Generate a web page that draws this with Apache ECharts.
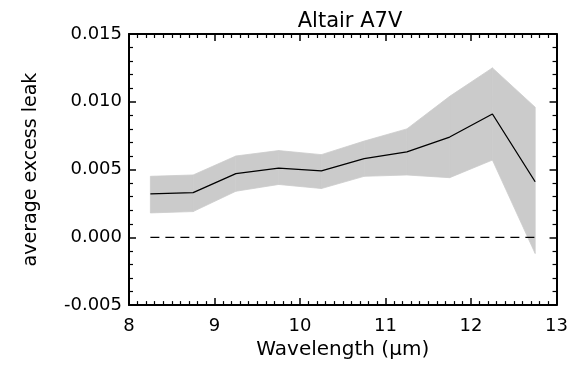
<!DOCTYPE html>
<html>
<head>
<meta charset="utf-8">
<script src="https://cdn.jsdelivr.net/npm/echarts@6/dist/echarts.min.js"></script>
<style>
  html, body { margin: 0; padding: 0; background: #fff; }
</style>
</head>
<body>
<div id="main" style="width: 571px; height: 365px"></div>
<script>
// wavelength bins (micron)
var wavelengths = [8.25, 8.75, 9.25, 9.75, 10.25, 10.75, 11.25, 11.75, 12.25, 12.75];
// mean leak
var meanLeak = [0.0032, 0.0033, 0.0047, 0.0051, 0.0049, 0.0058, 0.0063, 0.0074, 0.0091, 0.0041];
// band lower / upper edges
var lowerLeak = [0.0018, 0.0019, 0.0034, 0.0039, 0.0036, 0.0045, 0.0046, 0.0044, 0.0057, -0.0012];
var upperLeak = [0.0045, 0.0046, 0.0060, 0.0064, 0.0061, 0.0071, 0.0080, 0.0104, 0.0125, 0.0096];

var xTicks = [8, 9, 10, 11, 12, 13];
var yTicks = [-0.005, 0.000, 0.005, 0.010, 0.015];

var font = 'DejaVu Sans';
var bandColor = '#cbcbcb';

function pairs(ys) {
    return wavelengths.map(function (x, i) { return [x, ys[i]]; });
}

var chartDom = document.getElementById('main');
var myChart = echarts.init(chartDom, null, { renderer: 'canvas' });

var axisCommon = {
    type: 'value',
    axisLine: { show: true, onZero: false, lineStyle: { color: '#000', width: 2 } },
    axisTick: { show: true, inside: true, length: 7, lineStyle: { color: '#000', width: 1.5 } },
    minorTick: { show: true, length: 4, lineStyle: { color: '#000', width: 1.2 } },
    splitLine: { show: false }
};

// band: one quad per pair of neighbouring bins, positioned with api.coord
function renderBand(params, api) {
    var i = params.dataIndex;
    if (i >= wavelengths.length - 1) return null;
    var pts = [
        api.coord([wavelengths[i], lowerLeak[i]]),
        api.coord([wavelengths[i + 1], lowerLeak[i + 1]]),
        api.coord([wavelengths[i + 1], upperLeak[i + 1]]),
        api.coord([wavelengths[i], upperLeak[i]])
    ];
    return {
        type: 'polygon',
        shape: { points: pts },
        style: { fill: bandColor, stroke: bandColor, lineWidth: 0.8 },
        silent: true
    };
}

var option = {
    animation: false,
    title: {
        text: 'Altair A7V',
        left: 345,
        textAlign: 'center',
        top: 6,
        textStyle: { fontFamily: font, fontSize: 21, fontWeight: 'normal', color: '#000' }
    },
    grid: { left: 129, right: 13, top: 34, bottom: 53 },
    xAxis: [
        Object.assign({}, axisCommon, {
            position: 'bottom',
            min: xTicks[0], max: xTicks[xTicks.length - 1], interval: 1,
            minorTick: Object.assign({}, axisCommon.minorTick, { splitNumber: 10 }),
            name: 'Wavelength (\u03bcm)',
            nameLocation: 'middle',
            nameGap: 32,
            nameTextStyle: { fontFamily: font, fontSize: 20, color: '#000' },
            axisLabel: { margin: 12, fontFamily: font, fontSize: 18, color: '#000' }
        }),
        Object.assign({}, axisCommon, {
            position: 'top',
            min: xTicks[0], max: xTicks[xTicks.length - 1], interval: 1,
            minorTick: Object.assign({}, axisCommon.minorTick, { splitNumber: 10 }),
            axisLabel: { show: false }
        })
    ],
    yAxis: [
        Object.assign({}, axisCommon, {
            position: 'left',
            min: yTicks[0], max: yTicks[yTicks.length - 1], interval: 0.005,
            minorTick: Object.assign({}, axisCommon.minorTick, { splitNumber: 5 }),
            name: 'average excess leak',
            nameLocation: 'middle',
            nameGap: 88,
            nameTextStyle: { fontFamily: font, fontSize: 19, color: '#000' },
            axisLabel: {
                margin: 7, fontFamily: font, fontSize: 18, color: '#000',
                formatter: function (v) { return v.toFixed(3); }
            }
        }),
        Object.assign({}, axisCommon, {
            position: 'right',
            min: yTicks[0], max: yTicks[yTicks.length - 1], interval: 0.005,
            minorTick: Object.assign({}, axisCommon.minorTick, { splitNumber: 5 }),
            axisLabel: { show: false }
        })
    ],
    series: [
        {
            name: 'band',
            type: 'custom',
            renderItem: renderBand,
            data: wavelengths.map(function (x, i) { return [x, lowerLeak[i], upperLeak[i]]; }),
            encode: { x: 0, y: [1, 2] },
            silent: true,
            z: 1
        },
        {
            name: 'zero',
            type: 'line',
            data: [[wavelengths[0], 0], [wavelengths[wavelengths.length - 1], 0]],
            symbol: 'none',
            lineStyle: { color: '#000', width: 1.2, type: [9, 6] },
            silent: true,
            z: 3
        },
        {
            name: 'mean',
            type: 'line',
            data: pairs(meanLeak),
            symbol: 'none',
            lineStyle: { color: '#000', width: 1.3 },
            silent: true,
            z: 4
        }
    ]
};

option && myChart.setOption(option);
</script>
</body>
</html>
